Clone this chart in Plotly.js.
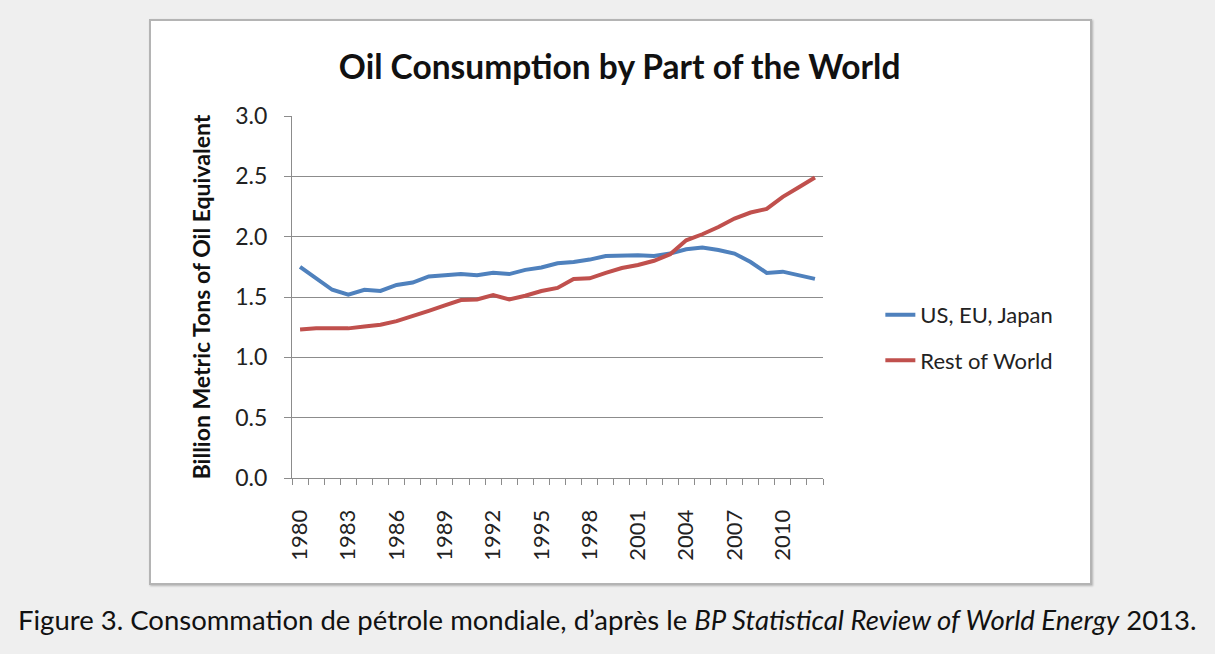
<!DOCTYPE html>
<html>
<head>
<meta charset="utf-8">
<script src="https://cdn.plot.ly/plotly-3.0.1.min.js"></script>
<style>
  html, body { margin: 0; padding: 0; background: #efefef; width: 1215px; height: 654px; overflow: hidden; }
  #box { position: absolute; left: 149px; top: 19px; width: 939px; height: 562px; background: #ffffff;
         border: 2px solid #b4b4b4; box-shadow: 1px 1px 2px rgba(0,0,0,0.25); }
  #chart { position: absolute; left: 0; top: 0; width: 1215px; height: 654px; }
</style>
</head>
<body>
<div id="box"></div>
<div id="chart"></div>
<script>
const years = ["1980","1981","1982","1983","1984","1985","1986","1987","1988","1989","1990",
  "1991","1992","1993","1994","1995","1996","1997","1998","1999","2000","2001","2002","2003",
  "2004","2005","2006","2007","2008","2009","2010","2011","2012"];
const usEuJapan = [1.75,1.65,1.56,1.52,1.56,1.55,1.60,1.62,1.67,1.68,1.69,1.68,1.70,1.69,1.725,1.745,
  1.78,1.79,1.81,1.84,1.845,1.845,1.84,1.86,1.895,1.91,1.89,1.86,1.79,1.70,1.71,1.68,1.65];
const restOfWorld = [1.23,1.24,1.24,1.24,1.255,1.27,1.30,1.34,1.385,1.43,1.475,1.48,1.515,1.48,1.51,1.55,
  1.575,1.65,1.655,1.70,1.74,1.765,1.80,1.855,1.97,2.02,2.08,2.15,2.20,2.23,2.33,2.41,2.49];
const labeledYears = ["1980","1983","1986","1989","1992","1995","1998","2001","2004","2007","2010"];
const yTicks = [0, 0.5, 1.0, 1.5, 2.0, 2.5, 3.0];
const yTickText = ["0.0","0.5","1.0","1.5","2.0","2.5","3.0"];

const FONT = "Lato, 'Open Sans', sans-serif";

const traces = [
  { x: years, y: usEuJapan, name: "US, EU, Japan", type: "scatter", mode: "lines",
    line: { color: "#4F81BD", width: 4 }, legendgroup: "a" },
  { x: years, y: restOfWorld, name: "Rest of World", type: "scatter", mode: "lines",
    line: { color: "#C0504D", width: 4 }, legendgroup: "b" }
];

const layout = {
  width: 1215, height: 654,
  paper_bgcolor: "rgba(0,0,0,0)", plot_bgcolor: "rgba(0,0,0,0)",
  margin: { l: 292, r: 392, t: 116, b: 176 },
  font: { family: FONT, color: "#222" },
  title: { text: "<b>Oil Consumption by Part of the World</b>", font: { family: FONT, size: 33.5, color: "#111" },
           x: 0.51, xref: "container", xanchor: "center", y: 0.897, yref: "container", yanchor: "middle" },
  xaxis: {
    type: "category", range: [-0.5, 32.5],
    tickvals: years, ticktext: years.map(y => labeledYears.includes(y) ? y : ""),
    tickangle: -90, tickson: "boundaries", ticks: "outside", ticklen: 6, tickcolor: "#8c8c8c",
    tickfont: { family: FONT, size: 22, color: "#222" }, ticklabelstandoff: 22,
    showgrid: false, showline: true, linecolor: "#8c8c8c", linewidth: 1, zeroline: false, fixedrange: true
  },
  yaxis: {
    range: [0, 3.0], tickvals: yTicks, ticktext: yTickText,
    ticks: "outside", ticklen: 7, tickcolor: "#8c8c8c",
    tickfont: { family: FONT, size: 23, color: "#222" }, ticklabelstandoff: 12,
    showgrid: true, gridcolor: "#8c8c8c", gridwidth: 1,
    showline: true, linecolor: "#8c8c8c", linewidth: 1, zeroline: false,
    title: { text: "<b>Billion Metric Tons of Oil Equivalent</b>", font: { family: FONT, size: 23, color: "#111" }, standoff: 18 },
    fixedrange: true
  },
  showlegend: true,
  legend: { x: 1.108, xanchor: "left", y: 0.387, yanchor: "middle", font: { family: FONT, size: 22, color: "#222" },
            bgcolor: "rgba(0,0,0,0)", tracegroupgap: 14, itemwidth: 30 },
  annotations: [
    { text: "Figure 3. Consommation de pétrole mondiale, d’après le <i>BP Statistical Review of World Energy</i> 2013.",
      xref: "paper", yref: "paper", x: 0.595, y: -0.39, xanchor: "center", yanchor: "middle", showarrow: false,
      font: { family: FONT, size: 27.5, color: "#111" } }
  ]
};

Plotly.newPlot("chart", traces, layout, { displayModeBar: false, staticPlot: true });
</script>
</body>
</html>
